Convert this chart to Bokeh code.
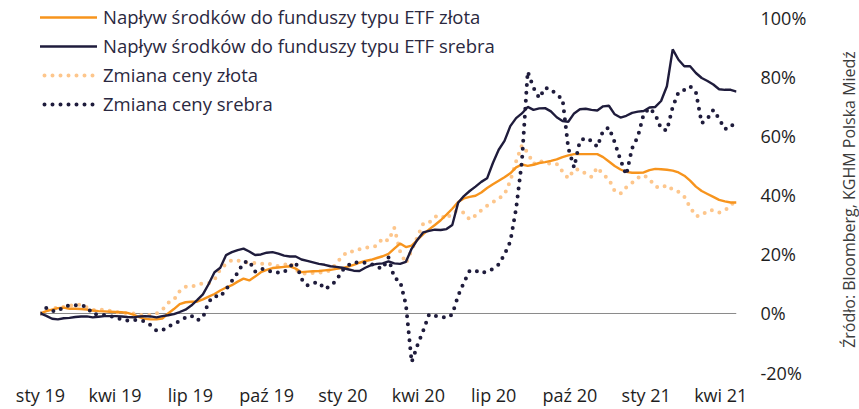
import math
import pandas as pd
from bokeh.plotting import figure
from bokeh.layouts import row
from bokeh.models import Range1d, FixedTicker, Span, Legend, LegendItem, Label
from bokeh.embed import file_html
from bokeh.resources import INLINE

# ---------------- data (weekly, % change since start of 2019) ----------------
start_date = "2019-01-01"

gold_etf = [
    0, 0.8, 1.3, 1.8, 2.0, 1.6, 1.6, 1.5, 1.3, 1.0,
    0.8, 0.7, 0.6, 0.5, 0.4, 0.2, -0.4, -1.2, -1.8, -2.0,
    -2.0, -1.7, 0.0, 1.5, 3.2, 3.8, 4.0, 4.0, 4.8, 5.7,
    6.6, 7.8, 8.8, 9.6, 10.8, 11.8, 11.2, 12.5, 14.0, 14.8,
    15.4, 15.6, 15.8, 16.0, 15.2, 14.0, 14.2, 14.3, 14.4, 14.6,
    14.8, 15.1, 15.4, 15.9, 16.5, 17.2, 17.8, 18.2, 18.8, 19.4,
    20.2, 22.0, 23.7, 22.5, 23.0, 25.0, 26.9, 28.5, 30.0, 31.6,
    33.5, 35.5, 37.8, 39.0, 39.5, 39.9, 41.0, 42.5, 43.8, 45.0,
    46.2, 47.5, 49.5, 50.5, 50.0, 50.4, 51.0, 51.3, 51.7, 52.2,
    53.0, 53.6, 54.0, 54.0, 54.0, 54.0, 54.0, 53.0, 51.5, 50.0,
    48.8, 48.0, 47.7, 47.7, 47.8, 48.6, 49.0, 48.9, 48.7, 48.4,
    47.8, 46.7, 45.0, 43.0, 41.5, 40.5, 39.5, 38.5, 38.0, 37.6,
    37.6,
]

silver_etf = [
    0, -0.8, -1.8, -2.0, -1.6, -1.5, -1.2, -1.0, -1.0, -1.3,
    -1.1, -0.9, -0.9, -0.9, -1.0, -1.2, -1.3, -1.0, -0.9, -1.0,
    -1.3, -0.9, -0.6, -0.2, 0.5, 1.3, 2.7, 4.5, 6.5, 10.0,
    14.0, 15.5, 19.8, 20.8, 21.5, 22.0, 21.0, 19.8, 20.0, 20.6,
    20.8, 20.3, 19.6, 19.3, 19.3, 18.3, 17.8, 17.3, 16.8, 16.5,
    16.0, 15.8, 15.5, 15.0, 14.5, 14.4, 15.5, 16.4, 16.8, 17.0,
    17.7, 17.0, 16.8, 17.5, 22.0, 25.0, 27.5, 28.0, 28.4, 28.3,
    28.6, 30.0, 37.5, 39.8, 41.5, 43.0, 44.6, 45.8, 51.0, 55.5,
    58.5, 63.5, 66.2, 67.8, 70.0, 69.0, 69.5, 69.6, 68.5, 66.5,
    65.2, 65.0, 67.8, 69.2, 69.4, 69.0, 68.8, 70.2, 70.4, 67.5,
    66.4, 67.0, 68.0, 68.4, 68.6, 69.8, 70.0, 72.0, 77.0, 89.5,
    86.0, 83.8, 83.8, 81.5, 79.8, 78.8, 77.6, 76.0, 75.8, 75.8,
    75.2,
]

gold_price = [
    0, 1.0, 1.6, 2.0, 2.2, 2.6, 3.0, 3.0, 2.0, 1.1,
    1.3, 1.3, 0.9, 0.5, 0.3, 0.1, 0.0, -0.5, -0.6, -0.5,
    0.0, 1.2, 3.6, 4.6, 7.6, 9.1, 9.0, 9.8, 10.2, 10.2,
    11.4, 15.0, 16.8, 18.1, 18.0, 17.3, 17.3, 17.1, 16.8, 17.2,
    16.5, 16.0, 16.4, 17.2, 14.8, 13.6, 13.5, 13.7, 13.8, 14.1,
    14.6, 17.0, 19.3, 21.0, 21.0, 21.8, 22.4, 22.4, 23.0, 25.5,
    24.6, 29.0, 21.0, 17.0, 21.5, 26.0, 30.5, 30.8, 32.8, 33.3,
    32.0, 34.2, 34.8, 34.1, 31.8, 33.2, 35.0, 36.5, 37.7, 39.0,
    40.3, 45.0, 51.5, 57.0, 54.5, 50.7, 51.8, 51.0, 50.7, 50.7,
    48.1, 45.8, 48.8, 48.8, 47.4, 46.3, 49.5, 47.1, 45.5, 41.5,
    40.6, 42.8, 44.3, 46.0, 46.9, 45.5, 43.0, 42.5, 43.5, 42.0,
    41.2, 39.6, 36.0, 33.0, 33.2, 34.8, 35.0, 34.2, 34.9, 36.6,
    38.5,
]

silver_price = [
    0, 1.9, 0.8, 0.8, 2.2, 2.8, 2.8, 2.8, 2.3, -0.2,
    -0.3, -0.5, -0.9, -1.4, -2.0, -2.4, -2.2, -2.2, -2.7, -4.0,
    -5.8, -5.7, -4.5, -3.4, -2.6, -1.4, -0.7, -2.3, -1.4, 4.0,
    6.0, 5.6, 8.2, 11.0, 13.8, 17.3, 17.8, 14.2, 15.2, 14.8,
    13.9, 13.9, 14.0, 16.0, 17.3, 11.7, 9.5, 10.3, 10.6, 8.3,
    9.3, 11.2, 14.5, 16.3, 17.4, 17.2, 17.2, 16.8, 15.7, 15.2,
    19.0, 12.0, 11.0, 3.0, -16.5, -10.7, -5.8, -0.3, -0.8, -1.0,
    -1.5, -0.3, 6.0, 10.5, 14.5, 14.5, 13.6, 14.3, 15.1, 16.6,
    20.0, 24.4, 35.5, 51.5, 82.0, 76.5, 73.0, 76.5, 76.0, 74.0,
    72.8, 56.0, 49.5, 58.5, 59.5, 58.5, 56.5, 62.0, 63.0, 58.0,
    52.0, 47.0, 56.0, 60.0, 67.6, 69.6, 67.5, 62.6, 62.0, 70.0,
    75.0, 75.8, 77.0, 75.0, 64.5, 66.0, 69.0, 66.0, 62.5, 63.0,
    66.0,
]

tick_dates = ["2019-01-01", "2019-04-01", "2019-07-01", "2019-10-01", "2020-01-01",
              "2020-04-01", "2020-07-01", "2020-10-01", "2021-01-01", "2021-04-01"]
tick_labels = ["sty 19", "kwi 19", "lip 19", "paź 19", "sty 20",
               "kwi 20", "lip 20", "paź 20", "sty 21", "kwi 21"]
y_ticks = [-20, 0, 20, 40, 60, 80, 100]
y_labels = ["-20%", "0%", "20%", "40%", "60%", "80%", "100%"]

legend_labels = [
    "Napływ środków do funduszy typu ETF złota",
    "Napływ środków do funduszy typu ETF srebra",
    "Zmiana ceny złota",
    "Zmiana ceny srebra",
]
source_text = "Źródło: Bloomberg, KGHM Polska Miedź"

# ---------------- styling ----------------
ORANGE = "#f7941d"
LIGHT_ORANGE = "#fdc68c"
NAVY = "#1f1c3c"
TEXT = "#1e1e1e"
FONT = "Open Sans"

dates = pd.date_range(start_date, periods=len(gold_etf), freq="7D")
tick_ms = [float(pd.Timestamp(d).value // 10**6) for d in tick_dates]

# frame reaches the top edge so the legend is not clipped; 100% sits 18px below it
p = figure(width=829, height=409, output_backend="svg", toolbar_location=None,
           x_axis_type="datetime", y_axis_location="right",
           x_range=Range1d(dates[0], dates[-1]), y_range=Range1d(-20, 106.07),
           min_border_left=40, min_border_right=93, min_border_top=0,
           min_border_bottom=35)
p.outline_line_color = None
p.grid.visible = False

for ax in (p.xaxis[0], p.yaxis[0]):
    ax.axis_line_color = None
    ax.major_tick_line_color = None
    ax.minor_tick_line_color = None
    ax.major_tick_out = 0
    ax.major_tick_in = 0
    ax.major_label_text_font = FONT
    ax.major_label_text_font_size = "18px"
    ax.major_label_text_color = TEXT

p.xaxis.ticker = FixedTicker(ticks=tick_ms)
p.xaxis.major_label_overrides = dict(zip(tick_ms, tick_labels))
p.xaxis.major_label_standoff = 10
p.yaxis.ticker = FixedTicker(ticks=y_ticks)
p.yaxis.major_label_overrides = dict(zip(y_ticks, y_labels))
p.yaxis.major_label_standoff = 24

p.add_layout(Span(location=0, dimension="width", line_color="#8a8a8a",
                  line_width=1, level="underlay"))

r_gp = p.line(dates, gold_price, line_color=LIGHT_ORANGE, line_width=4,
              line_dash="0 8", line_cap="round")
r_ge = p.line(dates, gold_etf, line_color=ORANGE, line_width=2.4)
r_sp = p.line(dates, silver_price, line_color=NAVY, line_width=4,
              line_dash="0 8", line_cap="round")
r_se = p.line(dates, silver_etf, line_color=NAVY, line_width=2.4)

legend = Legend(items=[LegendItem(label=legend_labels[0], renderers=[r_ge]),
                       LegendItem(label=legend_labels[1], renderers=[r_se]),
                       LegendItem(label=legend_labels[2], renderers=[r_gp]),
                       LegendItem(label=legend_labels[3], renderers=[r_sp])],
                location=(-12, 256), orientation="vertical",
                glyph_width=69, glyph_height=20, label_height=20,
                label_standoff=6, spacing=4, padding=0, margin=0,
                border_line_color=None, background_fill_alpha=0,
                label_text_font=FONT, label_text_font_size="18.5px",
                label_text_color="#2a2840")
p.add_layout(legend, "center")

# narrow side strip carrying the rotated source note
side = figure(width=30, height=409, output_backend="svg", toolbar_location=None,
              x_axis_location=None, y_axis_location=None,
              min_border_left=0, min_border_right=0, min_border_top=0,
              min_border_bottom=0)
side.outline_line_color = None
side.grid.visible = False
side.add_layout(Label(x=19, y=173, x_units="screen", y_units="screen",
                      text=source_text, angle=math.pi / 2,
                      text_align="center", text_baseline="middle",
                      text_font=FONT, text_font_size="16px",
                      text_color="#3c3c3c"))

layout = row(p, side)
open("out.html", "w").write(file_html(layout, INLINE))
